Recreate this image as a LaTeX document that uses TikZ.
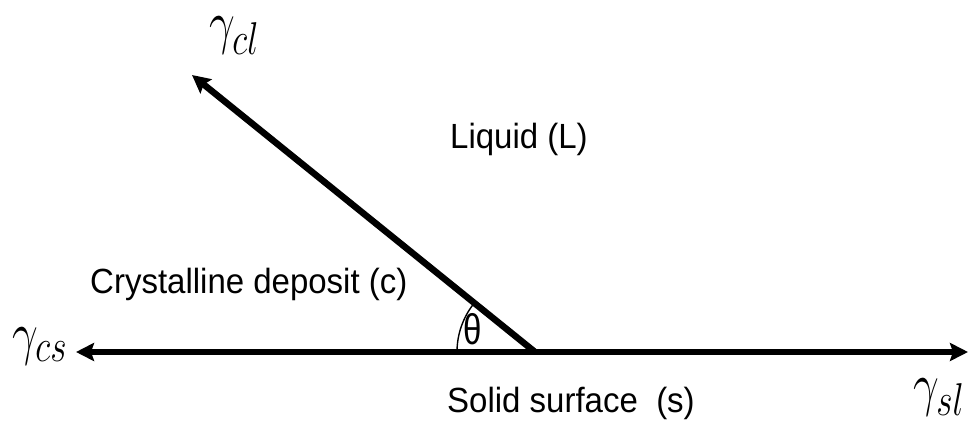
\RequirePackage{fix-cm}
\documentclass[tikz,border=0pt]{standalone}
\usepackage{fontspec}
\setmainfont{Liberation Sans}
\usetikzlibrary{arrows.meta}
\DeclareMathSizes{52}{52}{40}{30}
\newcommand{\gsym}[1]{\scalebox{0.88}[1.15]{$\gamma_{#1}$}}
\newcommand{\tallt}[1]{\scalebox{1}[1.06]{#1}}
\tikzset{
  force/.style={line width=6.5pt, -{Stealth[length=18pt,width=18pt,inset=3pt]}},
  lbl/.style={inner sep=0pt, anchor=base west, font=\fontsize{33}{40}\selectfont},
  glbl/.style={inner sep=0pt, anchor=base west, font=\fontsize{52}{60}\selectfont},
}
\begin{document}
\begin{tikzpicture}[x=1pt,y=-1pt]
\useasboundingbox (0,0) rectangle (978,428);
\coordinate (O) at (535,352);
\coordinate (L) at (76,352);
\coordinate (R) at (968,352);
\coordinate (C) at (192,75);
\draw[force] (O) -- (L);
\draw[force] (O) -- (R);
\draw[force] (O) -- (C);
\draw[line width=1.4pt] (O) ++(180:78pt) arc[start angle=180, end angle=141, radius=78pt];
\node[glbl] (gcl) at (209,43) {\gsym{cl}};
\node[glbl] (gcs) at (12,353) {\gsym{cs}};
\node[glbl] (gsl) at (913,404) {\gsym{sl}};
\node[lbl] (liq) at (450,148) {\tallt{Liquid (L)}};
\node[lbl] (cry) at (90,293) {\tallt{Crystalline deposit (c)}};
\node[lbl] (sol) at (447,412) {\tallt{Solid surface\ \ (s)}};
\node[inner sep=0pt, font=\fontsize{33}{40}\selectfont] (th) at (473,329) {\scalebox{1}[1.3]{θ}};
\end{tikzpicture}
\end{document}
